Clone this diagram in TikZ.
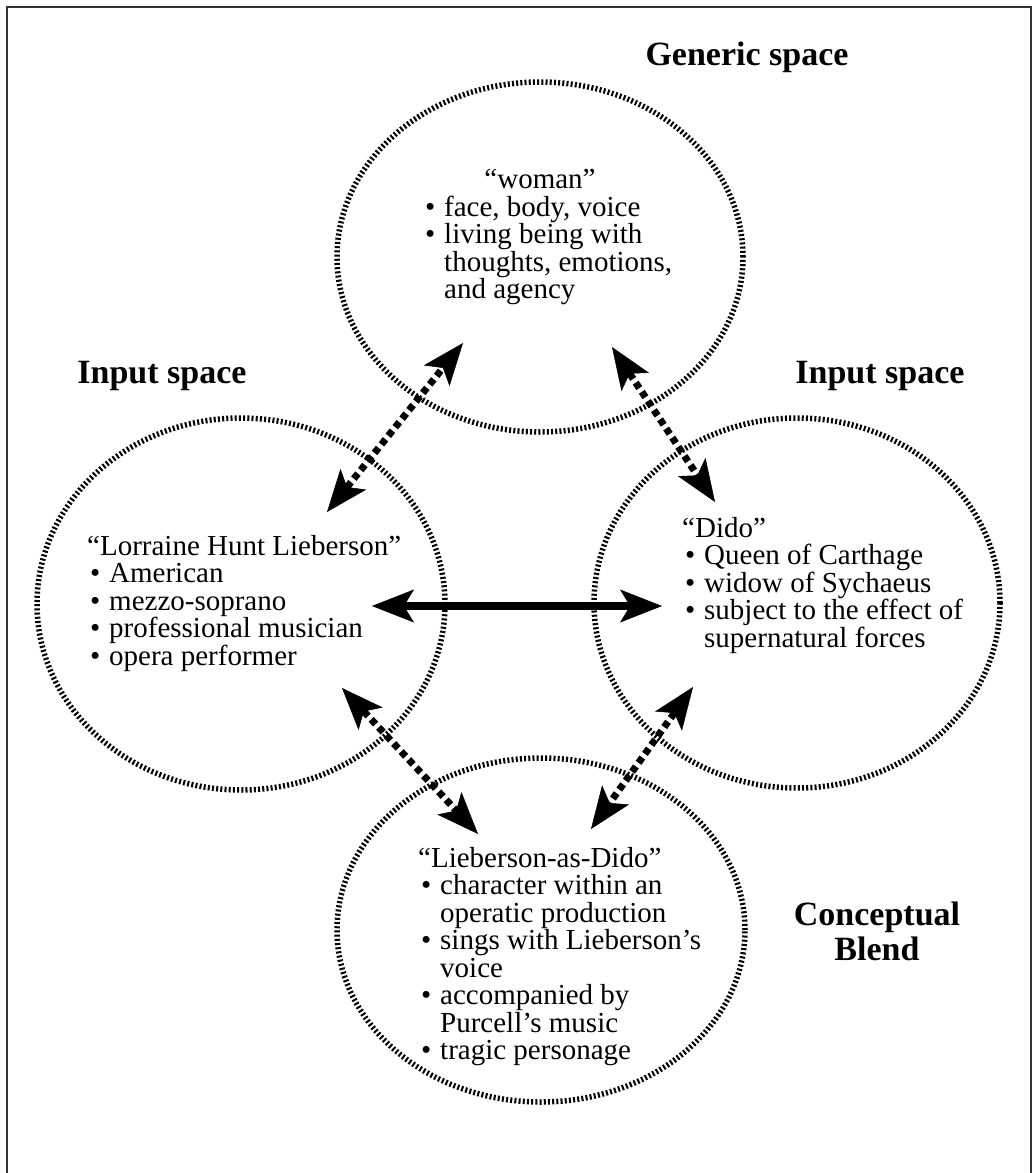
\documentclass[tikz,border=0pt]{standalone}
\usepackage{fontspec}
\setmainfont{Liberation Serif}
\usetikzlibrary{arrows.meta,shapes.geometric}
\newcommand\itm{\makebox[22pt][l]{\hspace{3pt}\textbullet}}
\newcommand\cnt{\makebox[22pt][l]{}}
\tikzset{
  bighead/.tip={Stealth[length=42pt,width=33pt,inset=10pt,line width=0.5pt]},
  space/.style={ellipse, draw, line width=5.5pt, dash pattern=on 2pt off 2.2pt, inner sep=0pt},
  spacetitle/.style={font=\fontsize{34}{35}\selectfont\bfseries, inner sep=0pt, align=center, anchor=base},
  body/.style={font=\fontsize{29}{27.5}\selectfont, inner sep=0pt, align=left, anchor=base west},
  mapping/.style={line width=7pt, dash pattern=on 6.5pt off 4.5pt, bighead-bighead},
  crossmap/.style={line width=8.5pt, bighead-bighead},
}
\begin{document}
\begin{tikzpicture}[x=1pt,y=-1pt]
\useasboundingbox (0,0) rectangle (1032,1173);
\draw[line width=2pt, black!80] (7,7) rectangle (1031,1190);

% spaces
\node[space, minimum width=406pt, minimum height=350pt] (generic) at (540,257) {};
\node[space, minimum width=408pt, minimum height=372pt] (input1) at (241,604) {};
\node[space, minimum width=406pt, minimum height=370pt] (input2) at (797,603) {};
\node[space, minimum width=408pt, minimum height=344pt] (blend) at (541,930) {};

% titles (anchor base = last line)
\node[spacetitle] (tgen) at (747,65) {Generic space};
\node[spacetitle] (tin1) at (162,383) {Input space};
\node[spacetitle] (tin2) at (880,383) {Input space};
\node[spacetitle] (tblend) at (877,960) {Conceptual\\Blend};

% texts (anchor base west = baseline of last line)
\node[font=\fontsize{29}{27.5}\selectfont, inner sep=0pt, anchor=base] (wname) at (540,188) {“woman”};
\node[body] (wlist) at (422,298.5) {\itm face, body, voice\\ \itm living being with\\ \cnt thoughts, emotions,\\ \cnt and agency};
\node[body] (llist) at (87,665) {“Lorraine Hunt Lieberson”\\ \itm American\\ \itm mezzo-soprano\\ \itm professional musician\\ \itm opera performer};
\node[body] (dlist) at (682,647) {“Dido”\\ \itm Queen of Carthage\\ \itm widow of Sychaeus\\ \itm subject to the effect of\\ \cnt supernatural forces};
\node[body] (blist) at (418,1059.5) {“Lieberson-as-Dido”\\ \itm character within an\\ \cnt operatic production\\ \itm sings with Lieberson’s\\ \cnt voice\\ \itm accompanied by\\ \cnt Purcell’s music\\ \itm tragic personage};

% arrow ends
\coordinate (a1s) at (327,512);
\coordinate (a1e) at (463,343);
\coordinate (a2s) at (612,347);
\coordinate (a2e) at (715,502);
\coordinate (a3s) at (342,688);
\coordinate (a3e) at (478,834);
\coordinate (a4s) at (693,687);
\coordinate (a4e) at (591,829);
\coordinate (hs) at (372,606);
\coordinate (he) at (662,606);

\draw[mapping] (a1s) -- (a1e);
\draw[mapping] (a2s) -- (a2e);
\draw[mapping] (a3s) -- (a3e);
\draw[mapping] (a4s) -- (a4e);
\draw[crossmap] (hs) -- (he);
\end{tikzpicture}
\end{document}
